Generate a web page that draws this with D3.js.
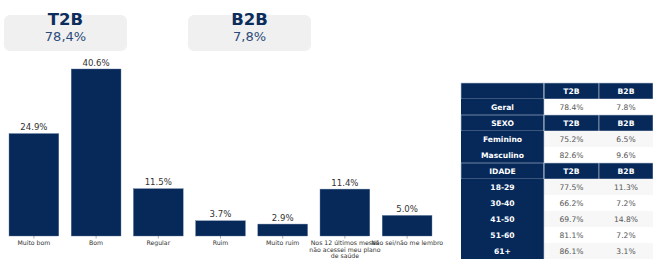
<!DOCTYPE html>
<html>
<head>
<meta charset="utf-8">
<script src="https://cdn.jsdelivr.net/npm/d3@7"></script>
<style>
  html, body { margin: 0; padding: 0; background: #fff; }
  svg { display: block; }
</style>
</head>
<body>
<svg id="chart"></svg>
<script>
'use strict'

var WIDTH = 653,
	HEIGHT = 259;

// bar chart data
var categories = ["Muito bom", "Bom", "Regular", "Ruim", "Muito ruim",
	"Nos 12 últimos meses\nnão acessei meu plano\nde saúde", "Não sei/não me lembro"];
var values = [24.9, 40.6, 11.5, 3.7, 2.9, 11.4, 5.0];

// summary cards
var cardTitles = ["T2B", "B2B"];
var cardValues = ["78,4%", "7,8%"];

// table
var rowLabels = ["Geral", "SEXO", "Feminino", "Masculino", "IDADE", "18-29", "30-40", "41-50", "51-60", "61+"];
var rowIsHeader = [false, true, false, false, true, false, false, false, false, false];
var t2bValues = ["78.4%", "T2B", "75.2%", "82.6%", "T2B", "77.5%", "66.2%", "69.7%", "81.1%", "86.1%"];
var b2bValues = ["7.8%", "B2B", "6.5%", "9.6%", "B2B", "11.3%", "7.2%", "14.8%", "7.2%", "3.1%"];

var navy = "#06295a";
var font = "DejaVu Sans, sans-serif";

var svg = d3.select("#chart")
	.attr("width", WIDTH)
	.attr("height", HEIGHT);

// ---- cards
var cardX = d3.scaleOrdinal().domain(cardTitles).range([4, 188]);
var cards = svg.selectAll(".card")
	.data(cardTitles)
	.enter()
	.append("g")
	.attr("transform", function (d) { return "translate(" + cardX(d) + ",15)"; });

cards.append("rect")
	.attr("width", 123)
	.attr("height", 36)
	.attr("rx", 6)
	.style("fill", "#f0f0f0");

cards.append("text")
	.attr("x", 61.5)
	.attr("y", 9.5)
	.attr("text-anchor", "middle")
	.style("font-family", font)
	.style("font-weight", "bold")
	.style("font-size", "16.5px")
	.style("fill", "#0c2d5c")
	.text(function (d) { return d; });

cards.append("text")
	.attr("x", 61.5)
	.attr("y", 25.5)
	.attr("text-anchor", "middle")
	.style("font-family", font)
	.style("font-size", "13px")
	.style("fill", "#2a4b7a")
	.text(function (d, i) { return cardValues[i]; });

// ---- bars
var baseY = 236;
var x = d3.scaleBand()
	.domain(categories)
	.range([2.8, 438.2])
	.paddingInner(0.2)
	.paddingOuter(0.1);

var y = d3.scaleLinear()
	.domain([0, 40.6])
	.range([baseY, 69]);

var bars = svg.selectAll(".bar")
	.data(values)
	.enter();

bars.append("rect")
	.attr("x", function (d, i) { return x(categories[i]); })
	.attr("y", function (d) { return y(d); })
	.attr("width", x.bandwidth())
	.attr("height", function (d) { return baseY - y(d); })
	.style("fill", navy)
	.style("stroke", "#5a7398")
	.style("stroke-width", 0.4);

bars.append("text")
	.attr("x", function (d, i) { return x(categories[i]) + x.bandwidth() / 2; })
	.attr("y", function (d) { return y(d) - 3.5; })
	.attr("text-anchor", "middle")
	.style("font-family", font)
	.style("font-size", "8.6px")
	.style("fill", "#333")
	.text(function (d) { return d.toFixed(1) + "%"; });

// x axis tick labels (multi line)
var ticks = svg.selectAll(".tick")
	.data(categories)
	.enter()
	.append("g")
	.attr("transform", function (d) { return "translate(" + (x(d) + x.bandwidth() / 2) + "," + baseY + ")"; });

ticks.append("line")
	.attr("y1", 0)
	.attr("y2", 2.5)
	.style("stroke", "#555")
	.style("stroke-width", 0.5);

ticks.append("text")
	.attr("text-anchor", "middle")
	.style("font-family", font)
	.style("font-size", "6.2px")
	.style("fill", "#333")
	.selectAll("tspan")
	.data(function (d) { return d.split("\n"); })
	.enter()
	.append("tspan")
	.attr("x", 0)
	.attr("y", function (d, i) { return 9 + i * 6.6; })
	.text(function (d) { return d; });

// ---- table
var colX = [461, 544, 599, 653];
var rowH = 16;
var tableTop = 83;

var allRows = [{ label: "", header: true, t2b: "T2B", b2b: "B2B" }];
rowLabels.forEach(function (l, i) {
	allRows.push({ label: l, header: rowIsHeader[i], t2b: t2bValues[i], b2b: b2bValues[i] });
});

var rowY = d3.scaleBand()
	.domain(d3.range(allRows.length))
	.range([tableTop, tableTop + rowH * allRows.length]);

var rows = svg.selectAll(".row")
	.data(allRows)
	.enter()
	.append("g")
	.attr("transform", function (d, i) { return "translate(0," + rowY(i) + ")"; });

var dataIndex = -1;
rows.each(function (d, i) {
	var g = d3.select(this);
	if (!d.header) dataIndex++;
	var cells = [d.label, d.t2b, d.b2b];
	cells.forEach(function (c, j) {
		var isNavy = d.header || j == 0;
		var bg = isNavy ? navy : (dataIndex % 2 == 1 ? "#f7f7f7" : "#ffffff");
		g.append("rect")
			.attr("x", colX[j])
			.attr("y", 0)
			.attr("width", colX[j + 1] - colX[j])
			.attr("height", rowY.bandwidth())
			.style("fill", bg)
			.style("stroke", d.header ? "#b9c3d1" : "none")
			.style("stroke-width", 0.6);
		g.append("text")
			.attr("x", (colX[j] + colX[j + 1]) / 2)
			.attr("y", rowY.bandwidth() / 2 + 3)
			.attr("text-anchor", "middle")
			.style("font-family", font)
			.style("font-size", "7.6px")
			.style("font-weight", isNavy ? "bold" : "normal")
			.style("fill", isNavy ? "#ffffff" : "#555")
			.text(c);
	});
});
// vertical divider between label column and values
svg.append("line")
	.attr("x1", colX[1])
	.attr("x2", colX[1])
	.attr("y1", tableTop)
	.attr("y2", tableTop + rowH * allRows.length)
	.style("stroke", "#b9c3d1")
	.style("stroke-width", 0.6);
</script>
</body>
</html>
